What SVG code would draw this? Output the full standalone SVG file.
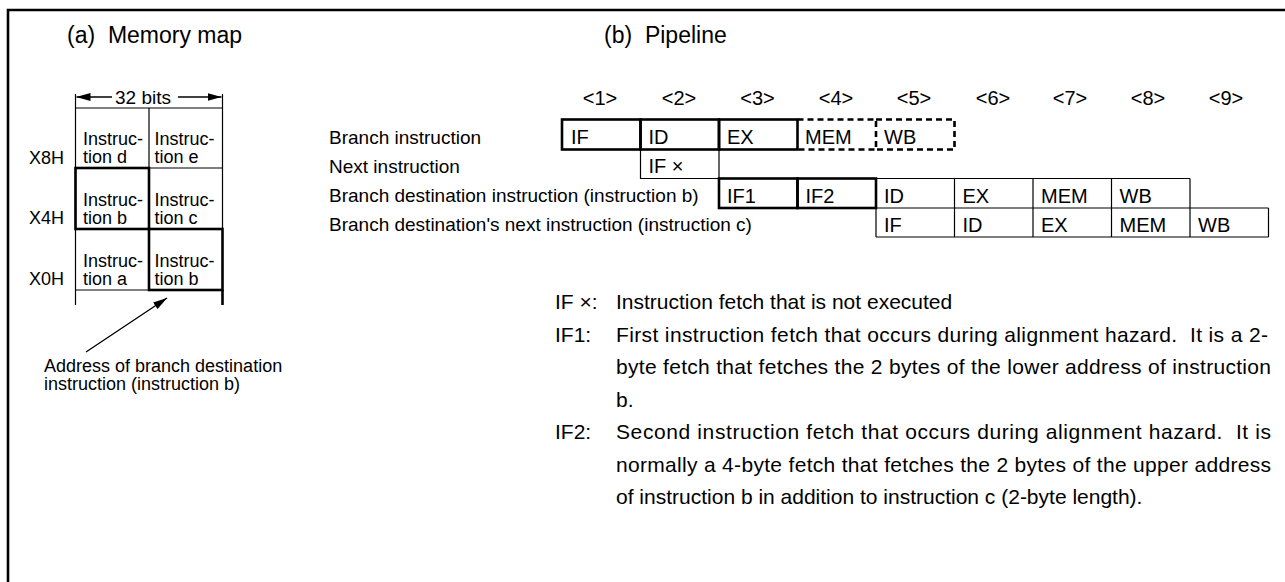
<svg xmlns="http://www.w3.org/2000/svg" width="1285" height="582" viewBox="0 0 1285 582">
<style>
text { font-family: "Liberation Sans", Arial, Helvetica, sans-serif; fill: #000; }
.hdr { font-size: 23px; white-space: pre; }
.cell { font-size: 18px; }
.lab { font-size: 19px; }
.stg { font-size: 20px; text-anchor: middle; }
.box { font-size: 20px; }
.note { font-size: 21px; white-space: pre; }
.thin { fill: none; stroke: #000; stroke-width: 1.2; }
.thick { fill: none; stroke: #000; stroke-width: 2.6; }
.dash { fill: none; stroke: #000; stroke-width: 2.6; stroke-dasharray: 6 4; }
.frame { fill: none; stroke: #000; stroke-width: 2.6; }
.conn { fill: none; stroke: #000; stroke-width: 1.4; }
</style>
<defs>
<marker id="ah" viewBox="0 0 14 8" refX="14" refY="4" markerWidth="14" markerHeight="8" markerUnits="userSpaceOnUse" orient="auto">
<path d="M0,0 L14,4 L0,8 Z" fill="#000"/>
</marker>
</defs>

<g id="frame">
<path class="frame" d="M8,582 V10 H1285"/>
</g>

<g id="titles">
<text class="hdr" x="67" y="43">(a)  Memory map</text>
<text class="hdr" x="604" y="43">(b)  Pipeline</text>
</g>

<g id="memory-map">
<g id="width-label">
<line class="thin" x1="75.5" y1="94" x2="75.5" y2="108"/>
<line class="thin" x1="222.5" y1="94" x2="222.5" y2="108"/>
<text class="lab" x="115" y="104">32 bits</text>
</g>
<g id="grid">
<line class="thin" x1="75.5" y1="108" x2="222.5" y2="108"/>
<line class="thin" x1="75.5" y1="108" x2="75.5" y2="305"/>
<line class="thin" x1="149" y1="108" x2="149" y2="168"/>
<line class="thin" x1="222.5" y1="108" x2="222.5" y2="229"/>
<line class="thin" x1="149" y1="168" x2="222.5" y2="168"/>
<line class="thin" x1="75.5" y1="290" x2="149" y2="290"/>
</g>
<g id="cell-d"><text class="cell" x="83" y="145">Instruc-</text><text class="cell" x="83" y="163">tion d</text></g>
<g id="cell-e"><text class="cell" x="154.5" y="145">Instruc-</text><text class="cell" x="154.5" y="163">tion e</text></g>
<g id="cell-b-high"><rect class="thick" x="75.5" y="168" width="73.5" height="61"/><text class="cell" x="83" y="206">Instruc-</text><text class="cell" x="83" y="224">tion b</text></g>
<g id="cell-c"><text class="cell" x="154.5" y="206">Instruc-</text><text class="cell" x="154.5" y="224">tion c</text></g>
<g id="cell-a"><text class="cell" x="83" y="267">Instruc-</text><text class="cell" x="83" y="285">tion a</text></g>
<g id="cell-b-low"><rect class="thick" x="149" y="229" width="73.5" height="61"/><line class="thick" x1="222.5" y1="290" x2="222.5" y2="305"/><text class="cell" x="154.5" y="267">Instruc-</text><text class="cell" x="154.5" y="285">tion b</text></g>
<g id="addr-labels">
<text class="cell" x="29" y="164">X8H</text>
<text class="cell" x="29" y="224">X4H</text>
<text class="cell" x="29" y="285">X0H</text>
</g>
<g id="addr-note">
<text class="cell" x="44" y="372">Address of branch destination</text>
<text class="cell" x="44" y="390">instruction (instruction b)</text>
</g>
</g>

<g id="stages">
<text class="stg" x="600" y="105">&lt;1&gt;</text>
<text class="stg" x="679" y="105">&lt;2&gt;</text>
<text class="stg" x="757.5" y="105">&lt;3&gt;</text>
<text class="stg" x="836" y="105">&lt;4&gt;</text>
<text class="stg" x="914" y="105">&lt;5&gt;</text>
<text class="stg" x="993" y="105">&lt;6&gt;</text>
<text class="stg" x="1070" y="105">&lt;7&gt;</text>
<text class="stg" x="1148" y="105">&lt;8&gt;</text>
<text class="stg" x="1226" y="105">&lt;9&gt;</text>
</g>

<g id="row-labels">
<text class="lab" x="329" y="144">Branch instruction</text>
<text class="lab" x="329" y="173">Next instruction</text>
<text class="lab" x="329" y="202">Branch destination instruction (instruction b)</text>
<text class="lab" x="329" y="231">Branch destination's next instruction (instruction c)</text>
</g>

<g id="row-branch">
<rect class="thick" x="562" y="119.5" width="78.5" height="30"/>
<rect class="thick" x="640.5" y="119.5" width="78.5" height="30"/>
<rect class="thick" x="719" y="119.5" width="78.5" height="30"/>
<path class="dash" d="M797.5,119.5 H876 V149.5 H797.5"/>
<path class="dash" d="M876,119.5 H954.5 V149.5 H876"/>
<text class="box" x="571" y="143.5">IF</text>
<text class="box" x="648.5" y="143.5">ID</text>
<text class="box" x="727" y="143.5">EX</text>
<text class="box" x="805" y="143.5">MEM</text>
<text class="box" x="884" y="143.5">WB</text>
</g>

<g id="row-next">
<path class="thin" d="M640.5,149.5 V178.5 H719 V149.5"/>
<text class="box" x="648.5" y="173">IF ×</text>
</g>

<g id="row-dest">
<rect class="thick" x="719" y="178.5" width="78.5" height="29.5"/>
<rect class="thick" x="797.5" y="178.5" width="78.5" height="29.5"/>
<path class="thin" d="M876,178.5 H1190 M876,208 H1268.5 M876,237 H1268.5 M954.5,178.5 V237 M1033,178.5 V237 M1111.5,178.5 V237 M1190,178.5 V237 M876,208 V237 M1268.5,208 V237"/>
<text class="box" x="727" y="202.5">IF1</text>
<text class="box" x="805.5" y="202.5">IF2</text>
<text class="box" x="884" y="202.5">ID</text>
<text class="box" x="962.5" y="202.5">EX</text>
<text class="box" x="1041" y="202.5">MEM</text>
<text class="box" x="1119.5" y="202.5">WB</text>
</g>

<g id="row-dest-next">
<text class="box" x="884" y="231.5">IF</text>
<text class="box" x="962.5" y="231.5">ID</text>
<text class="box" x="1041" y="231.5">EX</text>
<text class="box" x="1119.5" y="231.5">MEM</text>
<text class="box" x="1198" y="231.5">WB</text>
</g>

<g id="notes">
<text class="note" x="555" y="309">IF ×:</text>
<text class="note" x="616" y="309">Instruction fetch that is not executed</text>
<text class="note" x="555" y="341.5">IF1:</text>
<text class="note" x="616" y="341.5" textLength="652" lengthAdjust="spacing">First instruction fetch that occurs during alignment hazard.  It is a 2-</text>
<text class="note" x="616" y="374" textLength="655" lengthAdjust="spacing">byte fetch that fetches the 2 bytes of the lower address of instruction</text>
<text class="note" x="616" y="406.5">b.</text>
<text class="note" x="555" y="439">IF2:</text>
<text class="note" x="616" y="439" textLength="655" lengthAdjust="spacing">Second instruction fetch that occurs during alignment hazard.  It is</text>
<text class="note" x="616" y="471.5" textLength="655" lengthAdjust="spacing">normally a 4-byte fetch that fetches the 2 bytes of the upper address</text>
<text class="note" x="616" y="504">of instruction b in addition to instruction c (2-byte length).</text>
</g>

<g id="connectors">
<line class="conn" x1="112" y1="97" x2="76.5" y2="97" marker-end="url(#ah)"/>
<line class="conn" x1="178" y1="97" x2="221.5" y2="97" marker-end="url(#ah)"/>
<line class="conn" x1="86" y1="352" x2="167" y2="298" marker-end="url(#ah)"/>
</g>
</svg>
